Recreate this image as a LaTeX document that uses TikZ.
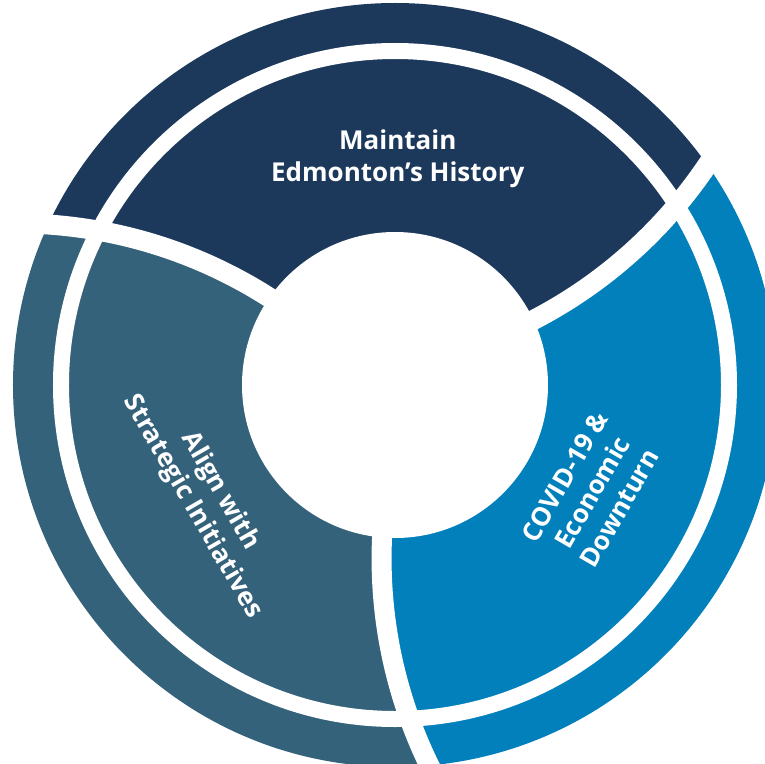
\documentclass[tikz,border=0pt]{standalone}
\usepackage{fontspec}
\setmainfont{Open Sans}
\definecolor{navyseg}{RGB}{28,57,92}
\definecolor{slateseg}{RGB}{53,98,123}
\definecolor{blueseg}{RGB}{2,128,188}
\begin{document}
\begin{tikzpicture}[x=1pt,y=1pt,
  segtext/.style={text=white, font=\fontsize{26}{31.7}\selectfont\bfseries, align=center, inner sep=0pt},
  gapline/.style={draw=white, line width=20pt}
]
\useasboundingbox (-395,-378) rectangle (370,385);
\clip (-395,-378) rectangle (370,385);
\def\RR{471}
\def\DD{489.5}
\coordinate (C1) at (219.2:\DD);
\coordinate (C2) at (339.2:\DD);
\coordinate (C3) at (99.2:\DD);
% slate: inside C1, outside C2
\begin{scope}
  \clip (C1) circle[radius=\RR];
  \clip (-1000,-1000) -- (1000,-1000) -- (1000,1000) -- (-1000,1000) -- cycle
        (C2) ++(\RR,0) arc[start angle=0, end angle=-360, radius=\RR];
  \fill[slateseg] (0,0) circle[radius=382];
\end{scope}
% blue: inside C2, outside C3
\begin{scope}
  \clip (C2) circle[radius=\RR];
  \clip (-1000,-1000) -- (1000,-1000) -- (1000,1000) -- (-1000,1000) -- cycle
        (C3) ++(\RR,0) arc[start angle=0, end angle=-360, radius=\RR];
  \fill[blueseg] (0,0) circle[radius=382];
\end{scope}
% navy: inside C3, outside C1
\begin{scope}
  \clip (C3) circle[radius=\RR];
  \clip (-1000,-1000) -- (1000,-1000) -- (1000,1000) -- (-1000,1000) -- cycle
        (C1) ++(\RR,0) arc[start angle=0, end angle=-360, radius=\RR];
  \fill[navyseg] (0,0) circle[radius=382];
\end{scope}
% dividers
\draw[gapline] (C1) ++(50:\RR) arc[start angle=50, end angle=95, radius=\RR];
\draw[gapline] (C2) ++(170:\RR) arc[start angle=170, end angle=215, radius=\RR];
\draw[gapline] (C3) ++(290:\RR) arc[start angle=290, end angle=335, radius=\RR];
% ring gap and centre
\draw[white, line width=16pt] (0,0) circle[radius=334];
\fill[white] (0,0) circle[radius=153];
% labels
\node[segtext] (maintain) at (2.8,226) {Maintain\\Edmonton’s History};
\node[segtext, rotate=-60] (align) at (-189,-114) {Align with\\Strategic Initiatives};
\node[segtext, rotate=60] (covid) at (197,-107.5) {COVID-19 \&\\Economic\\Downturn};
\end{tikzpicture}
\end{document}
